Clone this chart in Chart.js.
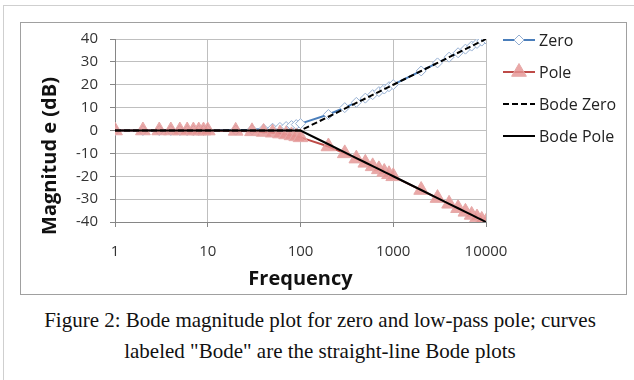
<!DOCTYPE html>
<html>
<head>
<meta charset="utf-8">
<script src="https://cdn.jsdelivr.net/npm/chart.js@4/dist/chart.umd.min.js"></script>
<style>
  html, body { margin: 0; padding: 0; background: #fff; width: 634px; height: 380px; overflow: hidden; }
  #outer { position: absolute; left: 3px; top: 5px; width: 700px; height: 400px; border-left: 1px solid #cfcfcf; border-top: 1px solid #cfcfcf; }
  #inner { position: absolute; left: 20px; top: 22px; width: 605px; height: 271px; border: 1px solid #a0a0a0; }
  #c { position: absolute; left: 0; top: 0; }
  #caption { position: absolute; left: 0; top: 305px; width: 640px; text-align: center; font-family: 'Liberation Serif', 'Times New Roman', serif; font-size: 21px; line-height: 31px; color: #111; }
</style>
</head>
<body>
<div id="outer"></div>
<div id="inner"></div>
<canvas id="c" width="634" height="300"></canvas>
<div id="caption">Figure 2: Bode magnitude plot for zero and low-pass pole; curves<br>labeled "Bode" are the straight-line Bode plots</div>
<script>
const freq = [1,2,3,4,5,6,7,8,9,10,20,30,40,50,60,70,80,90,100,200,300,400,500,600,700,800,900,1000,2000,3000,4000,5000,6000,7000,8000,9000,10000];
const zero = [0,0,0,0.01,0.01,0.02,0.02,0.03,0.04,0.04,0.17,0.37,0.64,0.97,1.34,1.73,2.15,2.58,3.01,6.99,10,12.3,14.15,15.68,16.99,18.13,19.14,20.04,26.03,29.55,32.05,33.98,35.57,36.9,38.06,39.09,40];
const pole = [0,0,0,-0.01,-0.01,-0.02,-0.02,-0.03,-0.04,-0.04,-0.17,-0.37,-0.64,-0.97,-1.34,-1.73,-2.15,-2.58,-3.01,-6.99,-10,-12.3,-14.15,-15.68,-16.99,-18.13,-19.14,-20.04,-26.03,-29.55,-32.05,-33.98,-35.57,-36.9,-38.06,-39.09,-40];
const bodeZero = [0,0,0,0,0,0,0,0,0,0,0,0,0,0,0,0,0,0,0,6.02,9.54,12.04,13.98,15.56,16.9,18.06,19.08,20,26.02,29.54,32.04,33.98,35.56,36.9,38.06,39.08,40];
const bodePole = [0,0,0,0,0,0,0,0,0,0,0,0,0,0,0,0,0,0,0,-6.02,-9.54,-12.04,-13.98,-15.56,-16.9,-18.06,-19.08,-20,-26.02,-29.54,-32.04,-33.98,-35.56,-36.9,-38.06,-39.08,-40];
const xTicks = [1,10,100,1000,10000];
const yTicks = [-40,-30,-20,-10,0,10,20,30,40];
const seriesNames = ['Zero','Pole','Bode Zero','Bode Pole'];
const xTitle = 'Frequency';
const yTitle = 'Magnitud e (dB)';

const FONT = '"Open Sans", Lato, sans-serif';
const pts = (ys) => freq.map((f, i) => ({x: f, y: ys[i]}));

const datasets = [
  { label: seriesNames[0], data: pts(zero), order: 4, showLine: true,
    borderColor: '#4a7ebb', borderWidth: 2, pointStyle: 'rectRot', pointRadius: 5,
    pointBackgroundColor: '#ffffff', pointBorderColor: '#95afd2', pointBorderWidth: 1 },
  { label: seriesNames[1], data: pts(pole), order: 3, showLine: true,
    borderColor: '#be4b48', borderWidth: 2, pointStyle: 'triangle', pointRadius: 8.5,
    pointBackgroundColor: 'rgba(229,148,147,0.82)', pointBorderColor: '#e6a9a8', pointBorderWidth: 1 },
  { label: seriesNames[2], data: pts(bodeZero), order: 2, showLine: true,
    borderColor: '#000000', borderWidth: 2, borderDash: [6, 3], pointRadius: 0 },
  { label: seriesNames[3], data: pts(bodePole), order: 1, showLine: true,
    borderColor: '#000000', borderWidth: 2, pointRadius: 0 }
];

function drawMarker(ctx, style, r, x, y) {
  if (style === 'rectRot') {
    ctx.moveTo(x, y - r); ctx.lineTo(x + r, y); ctx.lineTo(x, y + r); ctx.lineTo(x - r, y); ctx.closePath();
  } else if (style === 'triangle') {
    ctx.moveTo(x, y - r); ctx.lineTo(x + r * 0.866, y + r * 0.5); ctx.lineTo(x - r * 0.866, y + r * 0.5); ctx.closePath();
  }
}

const customLegend = {
  id: 'customLegend',
  afterDraw(chart) {
    const ctx = chart.ctx;
    const x0 = 503, x1 = 535, tx = 539;
    const ys = [40, 72, 104, 136];
    chart.data.datasets.forEach((ds, i) => {
      const y = ys[i];
      ctx.save();
      ctx.strokeStyle = ds.borderColor;
      ctx.lineWidth = 2;
      ctx.setLineDash(ds.borderDash || []);
      ctx.beginPath(); ctx.moveTo(x0, y); ctx.lineTo(x1, y); ctx.stroke();
      ctx.setLineDash([]);
      if (ds.pointRadius > 0) {
        ctx.fillStyle = ds.pointBackgroundColor;
        ctx.strokeStyle = ds.pointBorderColor;
        ctx.lineWidth = ds.pointBorderWidth;
        ctx.beginPath();
        drawMarker(ctx, ds.pointStyle, ds.pointRadius, (x0 + x1) / 2, y);
        ctx.fill(); ctx.stroke();
      }
      ctx.fillStyle = '#222';
      ctx.font = '16px ' + FONT;
      ctx.textAlign = 'left';
      ctx.textBaseline = 'middle';
      ctx.fillText(ds.label, tx, y + 1);
      ctx.restore();
    });
    ctx.save();
    ctx.translate(50, 156);
    ctx.rotate(-Math.PI / 2);
    ctx.fillStyle = '#111';
    ctx.font = 'bold 20px ' + FONT;
    ctx.textAlign = 'center';
    ctx.textBaseline = 'middle';
    ctx.fillText(yTitle, 0, 0);
    ctx.restore();
  }
};

new Chart(document.getElementById('c'), {
  type: 'scatter',
  data: { datasets },
  plugins: [customLegend],
  options: {
    responsive: false,
    animation: false,
    events: [],
    layout: { padding: { left: 0, top: 39, right: 148, bottom: 9 } },
    plugins: { legend: { display: false }, tooltip: { enabled: false } },
    scales: {
      x: {
        type: 'logarithmic', min: 1, max: 10000,
        afterBuildTicks: (s) => { s.ticks = xTicks.map(v => ({ value: v })); },
        afterFit: (s) => { s.height = 69; },
        ticks: { color: '#333', font: { family: FONT, size: 15 }, padding: 16, maxRotation: 0,
                 callback: (v) => String(v) },
        grid: { color: '#bfbfbf', lineWidth: 1, tickLength: 5, tickColor: '#868686' },
        border: { color: '#868686', width: 1 },
        title: { display: true, text: xTitle, color: '#111', font: { family: FONT, size: 20, weight: 'bold' }, padding: { top: 0, bottom: 0 } }
      },
      y: {
        min: -40, max: 40,
        afterBuildTicks: (s) => { s.ticks = yTicks.map(v => ({ value: v })); },
        afterFit: (s) => { s.width = 115; },
        ticks: { color: '#333', font: { family: FONT, size: 15 }, padding: 12 },
        grid: { color: '#bfbfbf', lineWidth: 1, tickLength: 5, tickColor: '#868686' },
        border: { color: '#868686', width: 1 }
      }
    }
  }
});
</script>
</body>
</html>
